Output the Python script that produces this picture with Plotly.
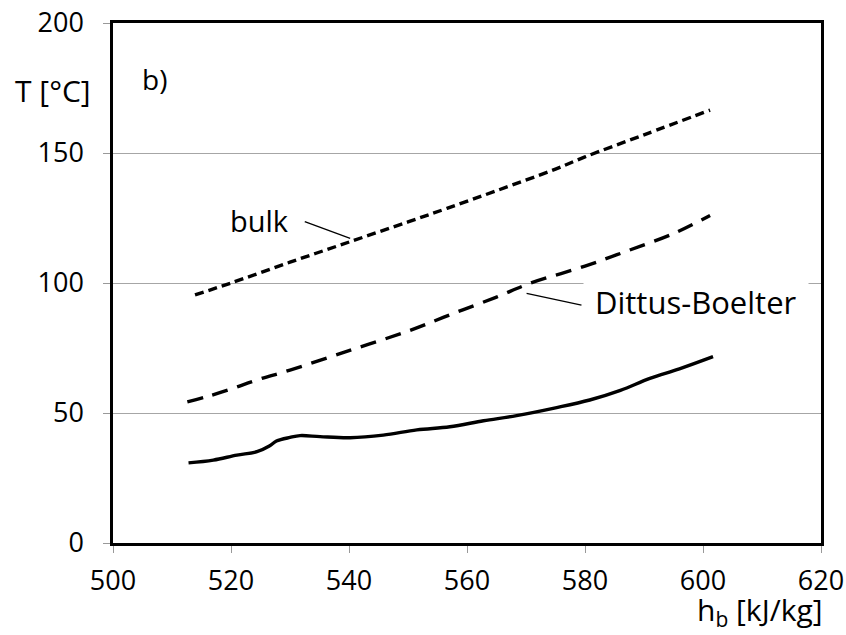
import plotly.graph_objects as go

# Data
h_bulk = [513.9, 520, 530, 540.2, 550, 556.6, 565, 575, 580, 590, 601.2]
T_bulk = [95.4, 100.0, 108.0, 115.9, 123.5, 128.7, 135.5, 143.8, 148.5, 157.0, 166.5]

h_db = [512.6, 515.9, 520, 524.4, 530, 540, 550, 557.7, 565, 570.7, 580, 587.6, 595, 601.2]
T_db = [54.3, 56.3, 59.2, 62.7, 66.5, 74.0, 81.5, 88.3, 94.6, 99.9, 106.5, 112.7, 119.0, 126.0]

h_wall = [512.8, 517.0, 521.0, 524.4, 526.5, 527.7, 530.0, 531.7, 535.1, 540.2, 545.8,
          551.5, 557.1, 562.8, 568.4, 575.0, 580.8, 586.0, 591.0, 596.0, 601.7]
T_wall = [30.8, 31.9, 33.8, 35.1, 37.3, 39.2, 40.6, 41.3, 40.9, 40.5, 41.5,
          43.5, 44.7, 47.0, 49.0, 52.0, 55.0, 58.7, 63.3, 67.0, 71.7]

x_ticks = [500, 520, 540, 560, 580, 600, 620]
y_ticks = [0, 50, 100, 150, 200]

FONT = "Open Sans"

fig = go.Figure()
fig.add_trace(go.Scatter(x=h_bulk, y=T_bulk, mode="lines",
                         line=dict(color="black", width=3.4, dash="9px,5px"),
                         line_shape="spline", showlegend=False))
fig.add_trace(go.Scatter(x=h_db, y=T_db, mode="lines",
                         line=dict(color="black", width=3.4, dash="16px,10px"),
                         line_shape="spline", showlegend=False))
fig.add_trace(go.Scatter(x=h_wall, y=T_wall, mode="lines",
                         line=dict(color="black", width=3.4),
                         line_shape="spline", showlegend=False))

# Dittus-Boelter label (white box hides the grid line behind it)
fig.add_annotation(x=579.7, y=92.7, text="Dittus-Boelter", showarrow=False,
                   xanchor="left", bgcolor="white", borderpad=11,
                   font=dict(family=FONT, size=31, color="black"))

# leader lines
fig.add_shape(type="line", x0=532.5, y0=123.6, x1=540.2, y1=117.2,
              line=dict(color="black", width=1.3))
fig.add_shape(type="line", x0=570.1, y0=96.0, x1=579.4, y1=91.5,
              line=dict(color="black", width=1.3))

fig.add_annotation(x=524.9, y=124.0, text="bulk", showarrow=False,
                   font=dict(family=FONT, size=29, color="black"))
fig.add_annotation(x=0.038, y=0.933, xref="paper", yref="paper", text="b)",
                   showarrow=False,
                   font=dict(family=FONT, size=28, color="black"))
fig.add_annotation(x=-0.028, y=0.913, xref="paper", yref="paper", text="T [°C]",
                   showarrow=False, xanchor="right",
                   font=dict(family=FONT, size=30, color="black"))
fig.add_annotation(x=1.006, y=-0.131, xref="paper", yref="paper",
                   text="h<sub>b</sub> [kJ/kg]", showarrow=False, xanchor="right",
                   yanchor="middle",
                   font=dict(family=FONT, size=30, color="black"))

fig.update_layout(
    width=846, height=635,
    margin=dict(l=113, r=25, t=23, b=92),
    plot_bgcolor="white", paper_bgcolor="white",
    font=dict(family=FONT, size=27, color="black"),
    xaxis=dict(range=[500, 620], tickvals=x_ticks, showgrid=False,
               showline=True, linecolor="black", linewidth=2.5, mirror=True,
               ticks="outside", ticklen=7, tickcolor="#999", tickwidth=1,
               ticklabelstandoff=5, zeroline=False, automargin=False,
               tickfont=dict(family=FONT, size=27)),
    yaxis=dict(range=[0, 200], tickvals=y_ticks, showgrid=True,
               gridcolor="#a6a6a6", gridwidth=1,
               showline=True, linecolor="black", linewidth=2.5, mirror=True,
               ticks="outside", ticklen=7, tickcolor="#999", tickwidth=1,
               ticklabelstandoff=14, zeroline=False, automargin=False,
               tickfont=dict(family=FONT, size=27)),
)

fig.write_html("out.html")
